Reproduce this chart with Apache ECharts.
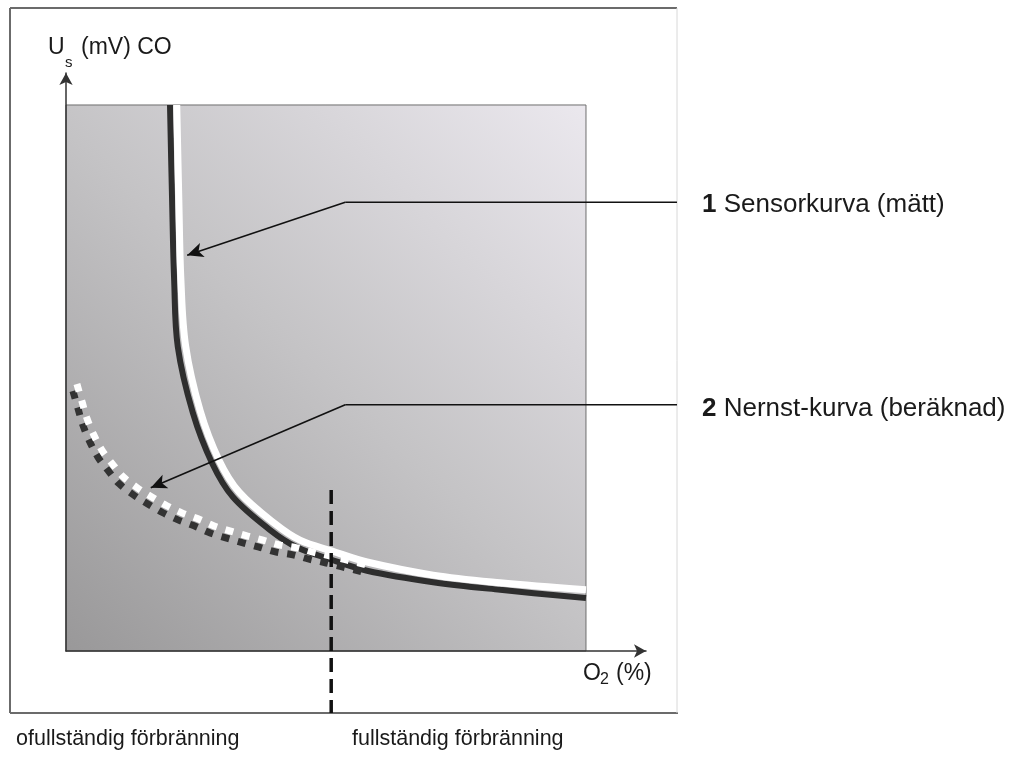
<!DOCTYPE html>
<html>
<head>
<meta charset="utf-8">
<title>Sensorkurva / Nernst-kurva</title>
<script src="https://cdn.jsdelivr.net/npm/echarts@6/dist/echarts.min.js"></script>
<style>
  html, body { margin: 0; padding: 0; background: #fff; }
  #chart { width: 1023px; height: 760px; }
</style>
</head>
<body>
<div id="chart"></div>
<script>
// values, in [O2, Us] units (plot square = 0..10 x 0..10)
// 1 Sensorkurva (mätt) - dark line
const sensorDark = [
  [2.00, 10.00], [2.04, 8.26], [2.08, 6.79], [2.15, 5.57], [2.44, 4.36],
  [2.81, 3.44], [3.21, 2.82], [3.92, 2.22], [4.44, 1.90], [5.08, 1.68],
  [5.79, 1.47], [7.06, 1.26], [8.35, 1.12], [10.00, 0.97]
];
// white edge along the measured curve
const sensorLight = [
  [2.13, 10.00], [2.17, 8.26], [2.21, 6.79], [2.30, 5.59], [2.58, 4.40],
  [2.94, 3.50], [3.33, 2.91], [4.02, 2.33], [4.50, 2.03], [5.12, 1.83],
  [5.79, 1.63], [7.06, 1.39], [8.35, 1.25], [10.00, 1.12]
];
// 2 Nernst-kurva (beräknad)
const nernst = [
  [0.21, 4.89], [0.31, 4.56], [0.40, 4.27], [0.52, 3.99], [0.69, 3.68],
  [0.88, 3.44], [1.10, 3.19], [1.37, 2.99], [1.65, 2.82], [1.94, 2.66],
  [2.23, 2.53], [2.54, 2.42], [2.85, 2.29], [3.15, 2.20], [3.48, 2.11],
  [3.79, 2.03], [4.12, 1.94], [4.44, 1.89], [4.75, 1.81], [5.08, 1.74],
  [5.77, 1.58]
];
// boundary ofullständig / fullständig förbränning
const boundary = [[5.10, 2.95], [5.10, -1.135]];
// callout leaders: [start, bend, tip]
const callout1 = [[11.75, 8.22], [5.37, 8.22], [2.33, 7.25]];
const callout2 = [[11.75, 4.51], [5.37, 4.51], [1.63, 2.99]];
const plotBox = [[0, 0], [10, 10]];

const font = '"Liberation Sans", Arial, Helvetica, sans-serif';
const myChart = echarts.init(document.getElementById('chart'));

// arrow head on the slanted part of a leader
function arrowPart(pts) {
  return [{ coord: pts[1], symbol: 'none' }, { coord: pts[2], symbol: 'arrow', symbolSize: [11, 16] }];
}

function txt(x, y, text, size) {
  return {
    type: 'text', x: x, y: y, z: 100,
    style: { text: text, font: size + 'px ' + font, fill: '#1a1a1a', verticalAlign: 'middle', textVerticalAlign: 'middle' }
  };
}

function legendTxt(y, num, text) {
  return {
    type: 'text', x: 702, y: y, z: 100,
    style: {
      text: '{b|' + num + '} ' + text, font: '26px ' + font, fill: '#1a1a1a',
      verticalAlign: 'middle', textVerticalAlign: 'middle',
      rich: { b: { fontWeight: 'bold', fontSize: 26, fontFamily: font } }
    }
  };
}

myChart.setOption({
  animation: false,
  backgroundColor: '#ffffff',
  grid: { left: 66, top: 73, right: 377, bottom: 109, containLabel: false },
  xAxis: {
    type: 'value', min: 0, max: 11.154, z: 5,
    axisLine: { lineStyle: { color: '#333', width: 1.5 }, symbol: ['none', 'arrow'], symbolSize: [10, 12] },
    axisTick: { show: false }, axisLabel: { show: false }, splitLine: { show: false }
  },
  yAxis: {
    type: 'value', min: 0, max: 10.586, z: 5,
    axisLine: { show: true, lineStyle: { color: '#333', width: 1.5 }, symbol: ['none', 'arrow'], symbolSize: [10, 12] },
    axisTick: { show: false }, axisLabel: { show: false }, splitLine: { show: false }
  },
  series: [
    {
      // grey plot square
      type: 'line', data: [], z: 1,
      markArea: {
        silent: true,
        itemStyle: {
          color: {
            type: 'linear', x: 0, y: 1, x2: 1, y2: 0,
            colorStops: [
              { offset: 0, color: '#999899' },
              { offset: 0.5, color: '#c4c3c5' },
              { offset: 1, color: '#ebe8ee' }
            ]
          },
          borderColor: '#6e6e6e', borderWidth: 1
        },
        data: [[{ coord: plotBox[0] }, { coord: plotBox[1] }]]
      }
    },
    {
      name: 'Sensorkurva (mätt)', type: 'line', data: sensorDark, z: 3,
      smooth: 0.35, showSymbol: false,
      lineStyle: { color: '#2e2e2e', width: 6 }
    },
    {
      name: 'Sensorkurva kant', type: 'line', data: sensorLight, z: 3,
      smooth: 0.35, showSymbol: false,
      lineStyle: { color: '#ffffff', width: 7 }
    },
    {
      name: 'Nernst-kurva (beräknad)', type: 'line', data: nernst, z: 4,
      smooth: 0.35, showSymbol: false,
      lineStyle: {
        color: '#ffffff', width: 7, type: [8, 9], cap: 'butt',
        shadowColor: '#333333', shadowBlur: 0, shadowOffsetX: -4, shadowOffsetY: 7
      }
    },
    {
      name: 'gräns', type: 'line', data: boundary, z: 6, clip: false,
      showSymbol: false,
      lineStyle: { color: '#111', width: 3.5, type: [14, 7] }
    },
    {
      // arrow heads of the callouts
      type: 'line', data: [], z: 7, clip: false,
      markLine: {
        silent: true, animation: false,
        label: { show: false },
        lineStyle: { color: '#111', width: 1.6, type: 'solid' },
        data: [arrowPart(callout1), arrowPart(callout2)]
      }
    }
  ]
});

// horizontal part of each leader, placed with the chart's own scales
const toPx = p => myChart.convertToPixel({ gridIndex: 0 }, p);
const leaderLine = pts => ({
  type: 'polyline', z: 100,
  shape: { points: [toPx(pts[0]), toPx(pts[1])] },
  style: { stroke: '#111', lineWidth: 1.6, fill: null }
});

myChart.setOption({
  graphic: [
    { type: 'line', shape: { x1: 10, y1: 8, x2: 677, y2: 8 }, style: { stroke: '#6b6b6b', lineWidth: 2 } },
    { type: 'line', shape: { x1: 10, y1: 8, x2: 10, y2: 713 }, style: { stroke: '#6b6b6b', lineWidth: 2 } },
    { type: 'line', shape: { x1: 10, y1: 713, x2: 678, y2: 713 }, style: { stroke: '#6b6b6b', lineWidth: 2 } },
    { type: 'line', shape: { x1: 677, y1: 8, x2: 677, y2: 713 }, style: { stroke: '#d8d8d8', lineWidth: 1 } },
    leaderLine(callout1),
    leaderLine(callout2),
    txt(48, 48, 'U', 23),
    txt(65, 63, 's', 15),
    txt(81, 48, '(mV) CO', 23),
    txt(583, 674, 'O', 23),
    txt(600, 680, '2', 16),
    txt(616, 674, '(%)', 23),
    legendTxt(205, '1', 'Sensorkurva (mätt)'),
    legendTxt(409, '2', 'Nernst-kurva (beräknad)'),
    txt(16, 739, 'ofullständig förbränning', 21.5),
    txt(352, 739, 'fullständig förbränning', 21.5)
  ]
});
</script>
</body>
</html>
